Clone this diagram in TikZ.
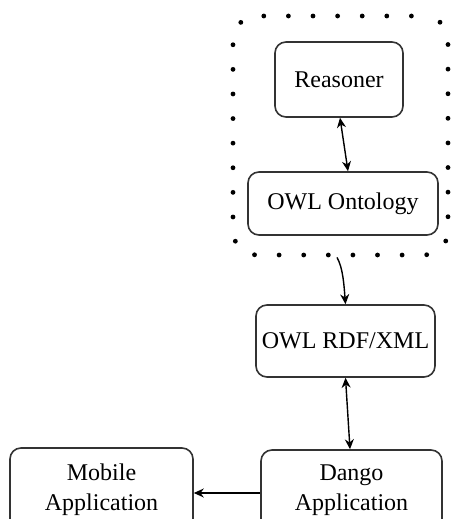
\documentclass[tikz,border=0pt]{standalone}
\usepackage{fontspec}
\setmainfont{Liberation Serif}
\usetikzlibrary{arrows.meta}
\begin{document}
\begin{tikzpicture}[x=1pt,y=-1pt,
  box/.style={draw=black!80, line width=1.6pt, rounded corners=11pt, rectangle, inner sep=0pt, align=center, font=\fontsize{24}{30}\selectfont},
  conn/.style={line width=1.4pt, {Stealth[length=10pt,width=9pt]}-{Stealth[length=10pt,width=9pt]}},
  oneway/.style={line width=1.4pt, -{Stealth[length=10pt,width=9pt]}},
  dotborder/.style={draw, line width=4.8pt, line cap=round, dash pattern=on 0pt off 24.6pt, dash phase=12pt, rounded corners=24pt, rectangle, inner sep=0pt}]
\useasboundingbox (0,0) rectangle (455,519);
\clip (0,0) rectangle (455,519);
\node[dotborder, minimum width=215pt, minimum height=239pt] (border) at (340.5,135.5) {};
\node[box, minimum width=128pt, minimum height=75pt] (reasoner) at (339,79.5) {Reasoner};
\node[box, minimum width=190pt, minimum height=63pt] (onto) at (343,203.5) {\raisebox{-5pt}{OWL Ontology}};
\node[box, minimum width=179pt, minimum height=72pt] (rdf) at (345.5,341) {\raisebox{-4pt}{OWL RDF/XML}};
\node[box, minimum width=181pt, minimum height=80pt] (dango) at (351.5,490) {Dango\\Application};
\node[box, minimum width=183pt, minimum height=84pt] (mobile) at (101.5,490) {Mobile\\Application};
\draw[conn] ([xshift=1pt]reasoner.south) -- ([xshift=5pt]onto.north);
\draw[oneway] ([xshift=-3.5pt]border.south) .. controls (343,268) and (344,285) .. (rdf.north);
\draw[conn] (rdf.south) -- ([xshift=-1.5pt]dango.north);
\draw[oneway] ([yshift=-3pt]dango.west) -- ([yshift=-3pt]mobile.east);
\end{tikzpicture}
\end{document}
